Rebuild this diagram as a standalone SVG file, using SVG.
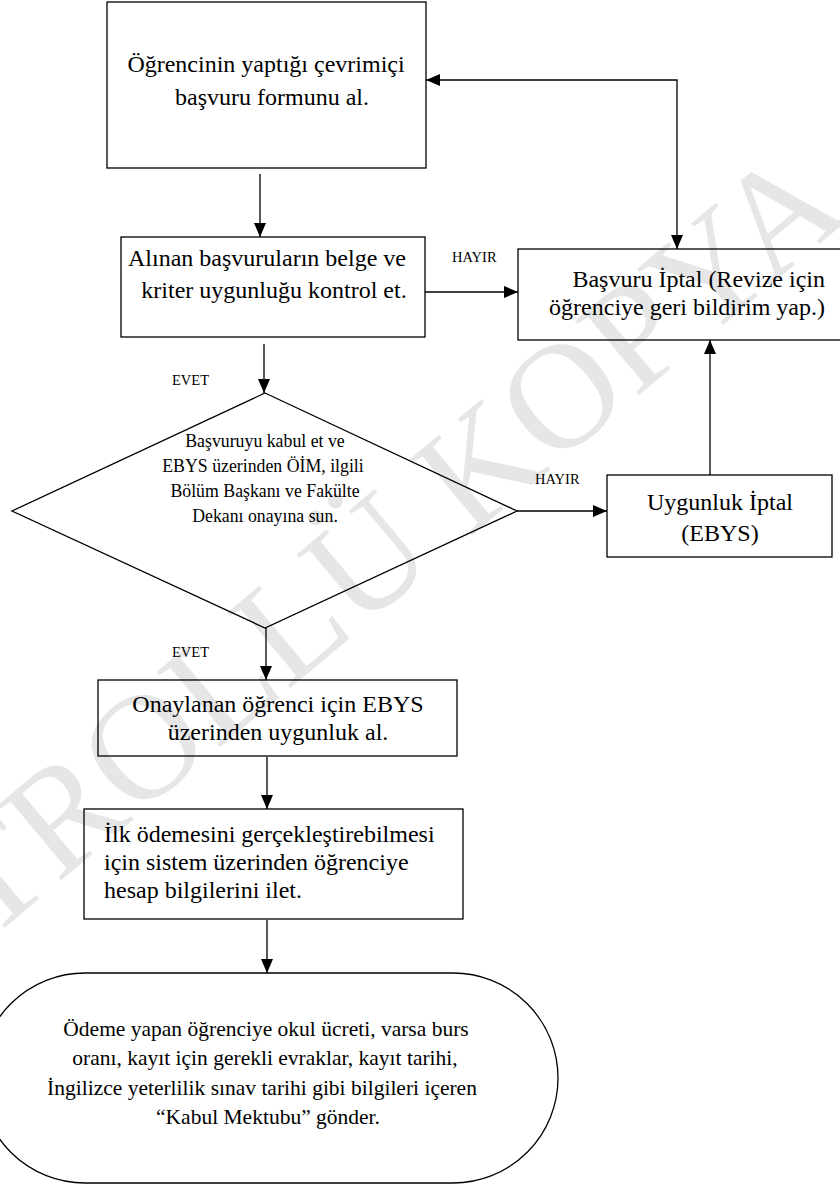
<svg xmlns="http://www.w3.org/2000/svg" width="840" height="1184" viewBox="0 0 840 1184">
<style>
.box{fill:none;stroke:#000;stroke-width:1.3}
.ln{fill:none;stroke:#000;stroke-width:1.3}
.t{font-family:"Liberation Serif","Times New Roman",serif;font-size:24px;fill:#000}
.d{font-family:"Liberation Serif","Times New Roman",serif;font-size:17.8px;fill:#000}
.lb{font-family:"Liberation Serif","Times New Roman",serif;font-size:14.5px;fill:#000}
.e{font-family:"Liberation Serif","Times New Roman",serif;font-size:21.5px;fill:#000}
.wm{font-family:"Liberation Serif","Times New Roman",serif;font-size:150px;fill:#e6e6e6}
</style>
<defs>
<marker id="ah" viewBox="0 0 14 12" markerWidth="14" markerHeight="12" refX="14" refY="6" orient="auto-start-reverse" markerUnits="userSpaceOnUse">
<path d="M0,0 L14,6 L0,12 z" fill="#000"/>
</marker>
</defs>
<rect width="840" height="1184" fill="#fff"/>
<text class="wm" x="295" y="684" text-anchor="middle" transform="rotate(-40 295 684)">KONTROLLÜ KOPYA</text>

<g id="connectors">
<line class="ln" x1="260" y1="174" x2="260" y2="237" marker-end="url(#ah)"/>
<line class="ln" x1="425" y1="292" x2="518" y2="292" marker-end="url(#ah)"/>
<polyline class="ln" points="426,80 677,80 677,249" marker-start="url(#ah)" marker-end="url(#ah)"/>
<line class="ln" x1="264" y1="344" x2="264" y2="393" marker-end="url(#ah)"/>
<line class="ln" x1="517" y1="511" x2="607" y2="511" marker-end="url(#ah)"/>
<line class="ln" x1="710" y1="475" x2="710" y2="340" marker-end="url(#ah)"/>
<line class="ln" x1="266" y1="628" x2="266" y2="680" marker-end="url(#ah)"/>
<line class="ln" x1="267" y1="757" x2="267" y2="809" marker-end="url(#ah)"/>
<line class="ln" x1="267" y1="920" x2="267" y2="973" marker-end="url(#ah)"/>
<text class="lb" x="452" y="262">HAYIR</text>
<text class="lb" x="172" y="385">EVET</text>
<text class="lb" x="535" y="484">HAYIR</text>
<text class="lb" x="172" y="657">EVET</text>
</g>

<g id="n1">
<rect class="box" x="107" y="2" width="319" height="166"/>
<text class="t" x="266" y="72" text-anchor="middle">Öğrencinin yaptığı çevrimiçi</text>
<text class="t" x="272" y="105" text-anchor="middle">başvuru formunu al.</text>
</g>

<g id="n2">
<rect class="box" x="121" y="237" width="304" height="100"/>
<text class="t" x="267" y="266" text-anchor="middle">Alınan başvuruların belge ve</text>
<text class="t" x="274" y="298" text-anchor="middle">kriter uygunluğu kontrol et.</text>
</g>

<g id="n3">
<rect class="box" x="518" y="249" width="330" height="91"/>
<text class="t" x="825" y="287" text-anchor="end">Başvuru İptal (Revize için</text>
<text class="t" x="825" y="315" text-anchor="end">öğrenciye geri bildirim yap.)</text>
</g>

<g id="n4">
<polygon class="box" points="265,393 517,511 265,628 12,511"/>
<text class="d" x="265" y="447" text-anchor="middle">Başvuruyu kabul et ve</text>
<text class="d" x="263" y="472" text-anchor="middle">EBYS üzerinden ÖİM, ilgili</text>
<text class="d" x="265" y="497" text-anchor="middle">Bölüm Başkanı ve Fakülte</text>
<text class="d" x="265" y="522" text-anchor="middle">Dekanı onayına sun.</text>
</g>

<g id="n5">
<rect class="box" x="607" y="475" width="225" height="82"/>
<text class="t" x="720" y="510" text-anchor="middle">Uygunluk İptal</text>
<text class="t" x="720" y="541" text-anchor="middle">(EBYS)</text>
</g>

<g id="n6">
<rect class="box" x="98" y="680" width="359" height="76"/>
<text class="t" x="278" y="712" text-anchor="middle">Onaylanan öğrenci için EBYS</text>
<text class="t" x="278" y="740" text-anchor="middle">üzerinden uygunluk al.</text>
</g>

<g id="n7">
<rect class="box" x="84" y="809" width="379" height="110"/>
<text class="t" x="104" y="842">İlk ödemesini gerçekleştirebilmesi</text>
<text class="t" x="104" y="870">için sistem üzerinden öğrenciye</text>
<text class="t" x="104" y="898">hesap bilgilerini ilet.</text>
</g>

<g id="n8">
<rect class="box" x="-20" y="973" width="578" height="210" rx="105" ry="105"/>
<text class="e" x="266" y="1036" text-anchor="middle">Ödeme yapan öğrenciye okul ücreti, varsa burs</text>
<text class="e" x="265" y="1065" text-anchor="middle">oranı, kayıt için gerekli evraklar, kayıt tarihi,</text>
<text class="e" x="262" y="1095" text-anchor="middle">İngilizce yeterlilik sınav tarihi gibi bilgileri içeren</text>
<text class="e" x="268" y="1124" text-anchor="middle">“Kabul Mektubu” gönder.</text>
</g>
</svg>
